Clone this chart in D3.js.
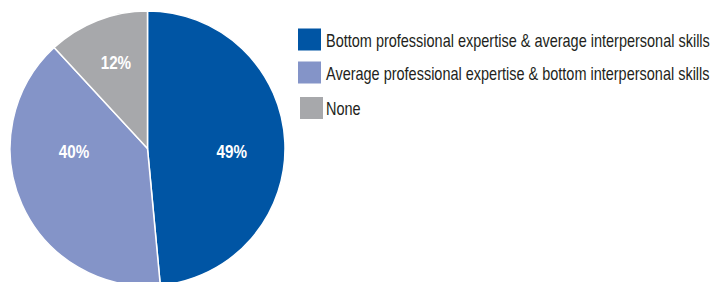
<!DOCTYPE html>
<html><head><meta charset="utf-8">
<script src="https://cdn.jsdelivr.net/npm/d3@7"></script>
<style>
html,body{margin:0;padding:0;background:#fff;}
svg{display:block;}
</style></head>
<body>
<svg id="chart" width="718" height="282"></svg>
<script>
const categories = [
  "Bottom professional expertise & average interpersonal skills",
  "Average professional expertise & bottom interpersonal skills",
  "None"
];
const values = [49, 40, 12];
const labels = ["49%", "40%", "12%"];
const colors = ["#0055a4", "#8494c8", "#a7a8ab"];

const FONT = "'Liberation Sans', Arial, sans-serif";
const svg = d3.select("#chart");
const cx = 147.5, cy = 148.5, R = 137.5;

const pie = d3.pie().sort(null).value(d => d);
const arcs = pie(values);
const arc = d3.arc().innerRadius(0).outerRadius(R);

const g = svg.append("g").attr("transform", `translate(${cx},${cy})`);
g.selectAll("path.slice").data(arcs).enter().append("path")
  .attr("class", "slice")
  .attr("d", arc)
  .attr("fill", (d, i) => colors[i])
  .attr("stroke", "#fff")
  .attr("stroke-width", 1.5)
  .attr("stroke-linejoin", "round");

// label placement: radius and angular shift (radians) per slice (layout only)
const labelRadius = [84.3, 73.6, 98];
const labelAngleShift = [0.01, 0.46, 0.045];
const labelCondense = 0.8;
const lblG = g.selectAll("g.lbl").data(arcs).enter().append("g")
  .attr("class", "lbl")
  .attr("transform", (d, i) => {
    const a = (d.startAngle + d.endAngle) / 2 + labelAngleShift[i];
    return `translate(${Math.sin(a) * labelRadius[i]},${-Math.cos(a) * labelRadius[i]}) scale(${labelCondense},1)`;
  });
lblG.append("text")
  .attr("dy", "0.68em")
  .attr("text-anchor", "middle")
  .attr("fill", "#fff")
  .attr("font-family", FONT)
  .attr("font-weight", "bold")
  .attr("font-size", 19)
  .text((d, i) => labels[i]);

// legend
const legend = svg.append("g");
const rowY = [28.5, 61.5, 97];
const swX = [298, 298, 300];
const rows = [];
categories.forEach((c, i) => {
  legend.append("rect")
    .attr("x", swX[i]).attr("y", rowY[i])
    .attr("width", 23).attr("height", 22)
    .attr("fill", colors[i]);
  const rg = legend.append("g");
  rg.append("text")
    .attr("x", 0).attr("y", 0)
    .attr("fill", "#231f20")
    .attr("font-family", FONT)
    .attr("font-size", 18)
    .text(c);
  rows.push(rg);
});
// condense legend text so the first line spans ~384px
const factor = 384 / rows[0].select("text").node().getComputedTextLength();
rows.forEach((rg, i) => rg.attr("transform", `translate(326,${rowY[i] + 18}) scale(${factor},1)`));
</script>
</body></html>
